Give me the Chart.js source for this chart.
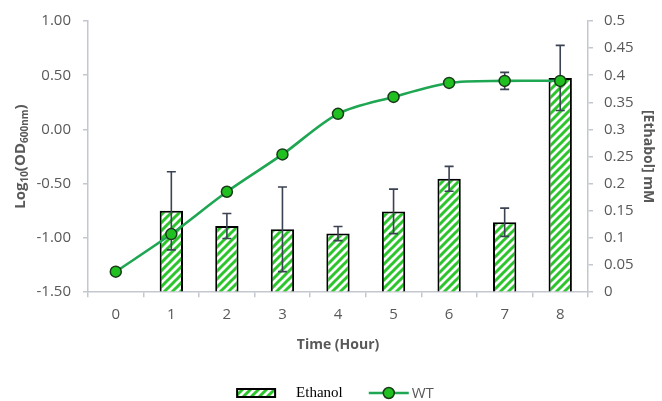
<!DOCTYPE html>
<html>
<head>
<meta charset="utf-8">
<script src="https://cdn.jsdelivr.net/npm/chart.js@4.4.1/dist/chart.umd.min.js"></script>
<style>
  html, body { margin: 0; padding: 0; background: #ffffff; }
  #wrap { width: 662px; height: 401px; }
</style>
</head>
<body>
<div id="wrap"><canvas id="c" width="662" height="401"></canvas></div>
<script>
// Sampling times (hours)
const hours = ['0', '1', '2', '3', '4', '5', '6', '7', '8'];
// Ethanol concentration (mM) and its standard deviation
const ethanolMM  = [null, 0.150, 0.122, 0.116, 0.108, 0.149, 0.209, 0.129, 0.395];
const ethanolErr = [null, 0.072, 0.023, 0.078, 0.013, 0.041, 0.023, 0.026, 0.060];
// WT growth curve, log10(OD600nm), and its standard deviation
const wtLogOD = [-1.311, -0.964, -0.574, -0.230, 0.144, 0.300, 0.429, 0.448, 0.448];
const wtErr   = [0, 0, 0, 0, 0, 0, 0, 0.078, 0];
// Axis ranges
const odAxis = { min: -1.5, max: 1.0, step: 0.5 };
const ethAxis = { min: 0, max: 0.5, step: 0.05 };

const GREY_TEXT = '#595959';
const AXIS_LINE = '#c3c7d0';
const ERR_COLOR = '#3b4252';
const LINE_GREEN = '#1fa652';
const POINT_GREEN = '#1fc01f';
const HATCH_GREEN = '#2cc52c';

// Diagonal green hatch on white used to fill the ethanol bars
function makeHatch() {
  const s = 8;
  const t = document.createElement('canvas');
  t.width = s; t.height = s;
  const g = t.getContext('2d');
  g.fillStyle = '#ffffff';
  g.fillRect(0, 0, s, s);
  g.strokeStyle = HATCH_GREEN;
  g.lineWidth = 3;
  g.beginPath();
  g.moveTo(-2, s + 2); g.lineTo(s + 2, -2);
  g.moveTo(-2, 2); g.lineTo(2, -2);
  g.moveTo(s - 2, s + 2); g.lineTo(s + 2, s - 2);
  g.stroke();
  return document.getElementById('c').getContext('2d').createPattern(t, 'repeat');
}
const hatch = makeHatch();

// Vertical error bars with caps, drawn right after the bar dataset so the line sits on top
const errorBars = {
  id: 'errorBars',
  afterDatasetDraw(chart, args) {
    if (args.index !== 0) return;
    const ctx = chart.ctx;
    const x = chart.scales.x;
    const draw = (vals, errs, scale) => {
      vals.forEach((v, i) => {
        const e = errs[i];
        if (v == null || !e) return;
        const cx = x.getPixelForValue(i);
        const top = scale.getPixelForValue(v + e);
        const bot = scale.getPixelForValue(v - e);
        ctx.beginPath();
        ctx.moveTo(cx, top); ctx.lineTo(cx, bot);
        ctx.moveTo(cx - 4.5, top); ctx.lineTo(cx + 4.5, top);
        ctx.moveTo(cx - 4.5, bot); ctx.lineTo(cx + 4.5, bot);
        ctx.stroke();
      });
    };
    ctx.save();
    ctx.strokeStyle = ERR_COLOR;
    ctx.lineWidth = 1.6;
    draw(ethanolMM, ethanolErr, chart.scales.y1);
    draw(wtLogOD, wtErr, chart.scales.y);
    ctx.restore();
  }
};

// Left axis title with subscripts: Log10(OD600nm)
const leftTitle = {
  id: 'leftTitle',
  afterDraw(chart) {
    const ctx = chart.ctx;
    const a = chart.chartArea;
    const parts = [
      ['Log', 15, 0], ['10', 10, 4], ['(OD', 15, 0], ['600nm', 10, 4], [')', 15, 0]
    ];
    ctx.save();
    let total = 0;
    parts.forEach(p => { ctx.font = `bold ${p[1]}px "Open Sans"`; total += ctx.measureText(p[0]).width; });
    ctx.translate(21, (a.top + a.bottom) / 2);
    ctx.rotate(-Math.PI / 2);
    ctx.fillStyle = GREY_TEXT;
    ctx.textBaseline = 'middle';
    let px = -total / 2;
    parts.forEach(p => {
      ctx.font = `bold ${p[1]}px "Open Sans"`;
      ctx.fillText(p[0], px, p[2]);
      px += ctx.measureText(p[0]).width;
    });
    ctx.restore();
  }
};

// Legend row under the x-axis title
const bottomLegend = {
  id: 'bottomLegend',
  afterDraw(chart) {
    const ctx = chart.ctx;
    const a = chart.chartArea;
    const y = 393;
    const bar = chart.data.datasets[0];
    const line = chart.data.datasets[1];
    ctx.save();
    ctx.font = '15px "Liberation Serif"';
    const w1 = ctx.measureText(bar.label).width;
    ctx.font = '15px "Open Sans"';
    const w2 = ctx.measureText(line.label).width;
    const total = 38 + 22 + w1 + 26 + 40 + 3 + w2;
    let x = (a.left + a.right) / 2 - total / 2 - 2;
    // hatched swatch
    ctx.fillStyle = hatch;
    ctx.fillRect(x, y - 4, 38, 8);
    ctx.strokeStyle = '#000000';
    ctx.lineWidth = 2;
    ctx.strokeRect(x, y - 4, 38, 8);
    x += 38 + 21;
    ctx.fillStyle = '#000000';
    ctx.textBaseline = 'middle';
    ctx.font = '15px "Liberation Serif"';
    ctx.fillText(bar.label, x, y);
    x += w1 + 26;
    // line + marker swatch
    ctx.strokeStyle = line.borderColor;
    ctx.lineWidth = 2.5;
    ctx.beginPath(); ctx.moveTo(x, y); ctx.lineTo(x + 40, y); ctx.stroke();
    ctx.beginPath(); ctx.arc(x + 20, y, 5.5, 0, Math.PI * 2);
    ctx.fillStyle = line.pointBackgroundColor; ctx.fill();
    ctx.strokeStyle = line.pointBorderColor; ctx.lineWidth = 1.5; ctx.stroke();
    x += 40 + 3;
    ctx.fillStyle = GREY_TEXT;
    ctx.font = '15px "Open Sans"';
    ctx.fillText(line.label, x, y + 1);
    ctx.restore();
  }
};

const tickFont = { family: '"Open Sans"', size: 15 };
const titleFont = { family: '"Open Sans"', size: 14, weight: 'bold' };

new Chart(document.getElementById('c'), {
  data: {
    labels: hours,
    datasets: [
      {
        type: 'bar',
        label: 'Ethanol',
        data: ethanolMM,
        yAxisID: 'y1',
        backgroundColor: hatch,
        borderColor: '#000000',
        borderWidth: 2,
        categoryPercentage: 1.0,
        barPercentage: 0.42,
        order: 2
      },
      {
        type: 'line',
        label: 'WT',
        data: wtLogOD,
        yAxisID: 'y',
        borderColor: LINE_GREEN,
        borderWidth: 2.6,
        tension: 0.3,
        pointRadius: 5.5,
        pointBorderWidth: 1.5,
        pointBackgroundColor: POINT_GREEN,
        pointBorderColor: '#1b3a1b',
        order: 1
      }
    ]
  },
  options: {
    responsive: false,
    animation: false,
    devicePixelRatio: 1,
    layout: { padding: { top: 13, bottom: 48, left: 0, right: 0 } },
    plugins: {
      legend: { display: false },
      tooltip: { enabled: false }
    },
    scales: {
      x: {
        type: 'category',
        offset: true,
        grid: { offset: true, drawOnChartArea: false, tickLength: 5, color: AXIS_LINE, lineWidth: 1.5 },
        border: { color: AXIS_LINE, width: 1.5 },
        ticks: { font: tickFont, color: GREY_TEXT, padding: 9 },
        title: { display: true, text: 'Time (Hour)', font: titleFont, color: GREY_TEXT, padding: { top: 3, bottom: 0 } }
      },
      y: {
        position: 'left',
        min: odAxis.min,
        max: odAxis.max,
        grid: { drawOnChartArea: false, tickLength: 5, color: AXIS_LINE, lineWidth: 1.5 },
        border: { color: AXIS_LINE, width: 1.5 },
        ticks: {
          stepSize: odAxis.step,
          font: tickFont,
          color: GREY_TEXT,
          padding: 12,
          callback: v => (Math.abs(v) < 1e-9 ? 0 : v).toFixed(2)
        },
        afterFit: s => { s.width = 88; }
      },
      y1: {
        position: 'right',
        min: ethAxis.min,
        max: ethAxis.max,
        grid: { drawOnChartArea: false, tickLength: 5, color: AXIS_LINE, lineWidth: 1.5 },
        border: { color: AXIS_LINE, width: 1.5 },
        ticks: {
          stepSize: ethAxis.step,
          font: tickFont,
          color: GREY_TEXT,
          padding: 11,
          callback: v => String(parseFloat(v.toFixed(2)))
        },
        title: { display: true, text: '[Ethabol] mM', font: titleFont, color: GREY_TEXT, padding: { top: 6, bottom: 6 } },
        afterFit: s => { s.width = 74; }
      }
    }
  },
  plugins: [errorBars, leftTitle, bottomLegend]
});
</script>
</body>
</html>
